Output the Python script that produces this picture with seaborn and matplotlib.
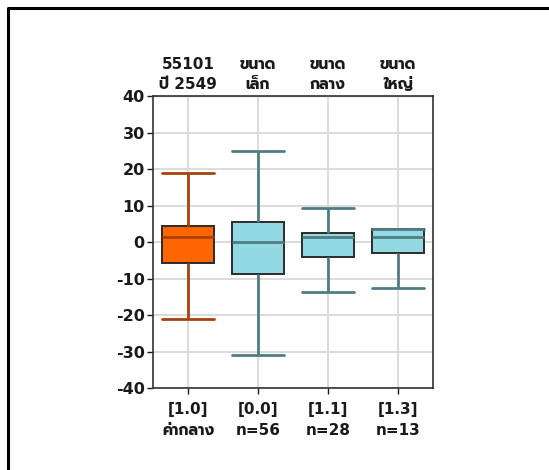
import pandas as pd
import seaborn as sns
import matplotlib
matplotlib.use("Agg")
import matplotlib.pyplot as plt
from matplotlib.lines import Line2D

# five-number summaries: low whisker, Q1, median, Q3, high whisker
groups = ["55101", "small", "medium", "large"]
lows = [-21.0, -31.0, -13.8, -12.6]
q1s = [-5.8, -8.8, -4.2, -2.9]
medians = [1.3, 0.1, 1.3, 1.3]
q3s = [4.5, 5.6, 2.5, 3.6]
highs = [18.8, 25.0, 9.3, 3.6]

top_labels = ["55101\nปี 2549", "ขนาด\nเล็ก", "ขนาด\nกลาง", "ขนาด\nใหญ่"]
bottom_labels = ["[1.0]\nค่ากลาง", "[0.0]\nn=56", "[1.1]\nn=28", "[1.3]\nn=13"]
y_ticks = [-40, -30, -20, -10, 0, 10, 20, 30, 40]

rows = []
for g, lo, a, m, b, hi in zip(groups, lows, q1s, medians, q3s, highs):
    for v in (lo, a, m, b, hi):
        rows.append({"group": g, "value": v})
df = pd.DataFrame(rows)

sns.set_style("ticks")
plt.rcParams["font.family"] = ["DejaVu Sans", "Prompt"]
plt.rcParams["axes.unicode_minus"] = False
plt.rcParams["text.color"] = "#1a1a1a"
plt.rcParams["xtick.color"] = "#1a1a1a"
plt.rcParams["ytick.color"] = "#1a1a1a"

fig = plt.figure(figsize=(5.49, 4.7), dpi=100)
ax = fig.add_axes([0.2787, 0.1745, 0.51, 0.621])

first = df[df["group"] == groups[0]]
rest = df[df["group"] != groups[0]]
sns.boxplot(data=first, x="group", y="value", order=groups, whis=(0, 100),
            width=0.75, color="#ff6600", linecolor="#a8420c", linewidth=2.0,
            saturation=1, ax=ax)
sns.boxplot(data=rest, x="group", y="value", order=groups, whis=(0, 100),
            width=0.75, color="#92d9e4", linecolor="#4f7d84", linewidth=2.0,
            saturation=1, ax=ax)
for p in ax.patches:
    p.set_edgecolor("#2b2b2b")
    p.set_linewidth(1.4)

# whisker caps as wide as the boxes
for ln in ax.lines:
    xd = list(ln.get_xdata())
    yd = list(ln.get_ydata())
    if len(xd) == 2 and yd[0] == yd[1] and xd[0] != xd[1]:
        c = (xd[0] + xd[1]) / 2
        ln.set_xdata([c - 0.375, c + 0.375])

ax.grid(True, axis="both", color="#d9d9d9", linewidth=1.3)
ax.set_axisbelow(True)

ax.set_xlim(-0.5, 3.5)
ax.set_ylim(-40, 40)
ax.set_yticks(y_ticks)
ax.set_yticklabels([str(v) for v in y_ticks], fontsize=11.5, fontweight="bold")
ax.set_xticks(range(4))
ax.set_xticklabels(bottom_labels, fontsize=11, fontweight="bold", linespacing=1.5)
ax.tick_params(axis="y", length=4, width=1, pad=2)
ax.tick_params(axis="x", length=4, width=1, pad=6)
ax.set_xlabel("")
ax.set_ylabel("")
for s in ax.spines.values():
    s.set_color("#333333")
    s.set_linewidth(1.2)

top = ax.secondary_xaxis("top")
top.set_xticks(range(4))
top.set_xticklabels(top_labels, fontsize=11, fontweight="bold", linespacing=1.45)
top.tick_params(axis="x", length=0, pad=3)

# page frame, partly off the picture
fig.add_artist(Line2D([0.0146, 0.0146, 1.0], [0.0, 0.983, 0.983],
                      transform=fig.transFigure, color="black", linewidth=2.2))

fig.savefig("out.png", dpi=100)
